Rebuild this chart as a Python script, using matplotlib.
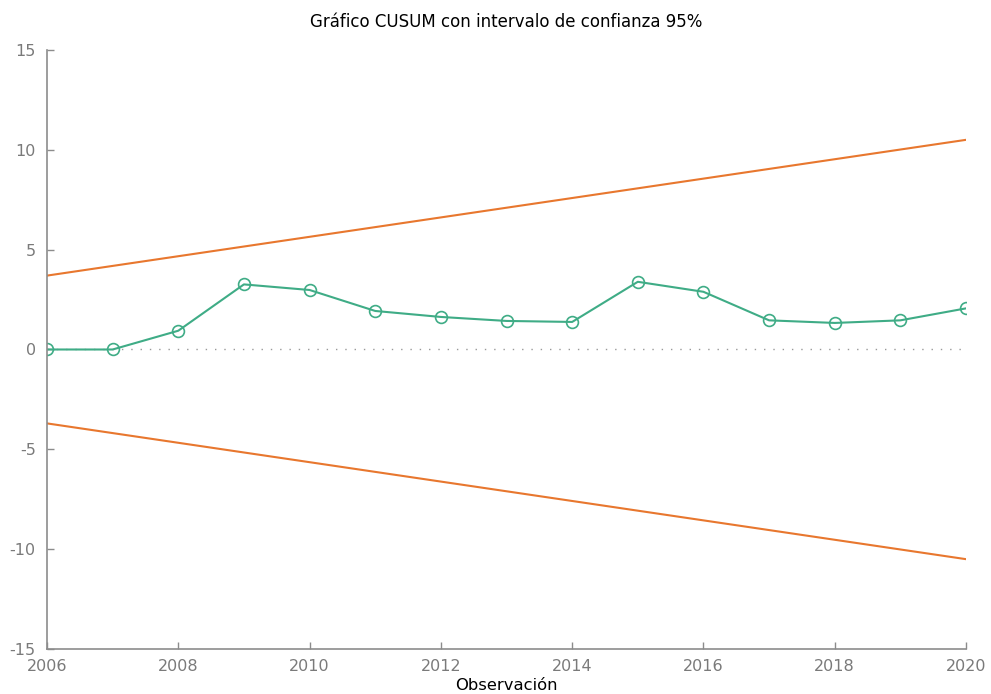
import matplotlib
matplotlib.use('Agg')
import matplotlib.pyplot as plt
import numpy as np

# datos
years = [2006, 2007, 2008, 2009, 2010, 2011, 2012, 2013, 2014,
         2015, 2016, 2017, 2018, 2019, 2020]
cusum = [0.0, 0.0, 0.94, 3.26, 2.98, 1.93, 1.63, 1.43, 1.38,
         3.39, 2.89, 1.46, 1.33, 1.46, 2.06]
band_years = [2006, 2020]
upper_band = [3.7, 10.5]
lower_band = [-3.7, -10.5]

green = '#3fac86'
orange = '#e8772e'
grey = '#8c8c8c'

plt.rcParams['font.family'] = ['DejaVu Sans']
plt.rcParams['axes.unicode_minus'] = False
fig = plt.figure(figsize=(9.91, 6.94), dpi=100)
ax = fig.add_axes([0.0474, 0.0648, 0.9274, 0.8632])

ax.plot(band_years, upper_band, color=orange, lw=1.5)
ax.plot(band_years, lower_band, color=orange, lw=1.5)
ax.plot([years[0], years[-1]], [0, 0], color='#999999', lw=1.0,
        dashes=(1.0, 5.7))
ax.plot(years, cusum, color=green, lw=1.5, marker='o', ms=8.5,
        mfc='none', mec=green, mew=1.2)

ax.set_xlim(2006, 2020)
ax.set_ylim(-15, 15)
ax.set_xticks(np.arange(2006, 2021, 2))
ax.set_yticks(np.arange(-15, 16, 5))

for s in ['top', 'right']:
    ax.spines[s].set_visible(False)
for s in ['left', 'bottom']:
    ax.spines[s].set_color(grey)
    ax.spines[s].set_linewidth(1.2)

ax.tick_params(axis='both', direction='in', length=5, width=1.0,
               color=grey, labelcolor='#7a7a7a', labelsize=11.5)
ax.tick_params(axis='y', pad=8)
ax.tick_params(axis='x', pad=7)

# título centrado sobre el área del gráfico
fig.text(0.0474 + 0.9274 / 2, 1 - 22 / 694,
         'Gráfico CUSUM con intervalo de confianza 95%',
         fontsize=12, ha='center', va='center')
ax.set_xlabel('Observación', fontsize=11.8, labelpad=3)

fig.savefig('out.png', dpi=100)
